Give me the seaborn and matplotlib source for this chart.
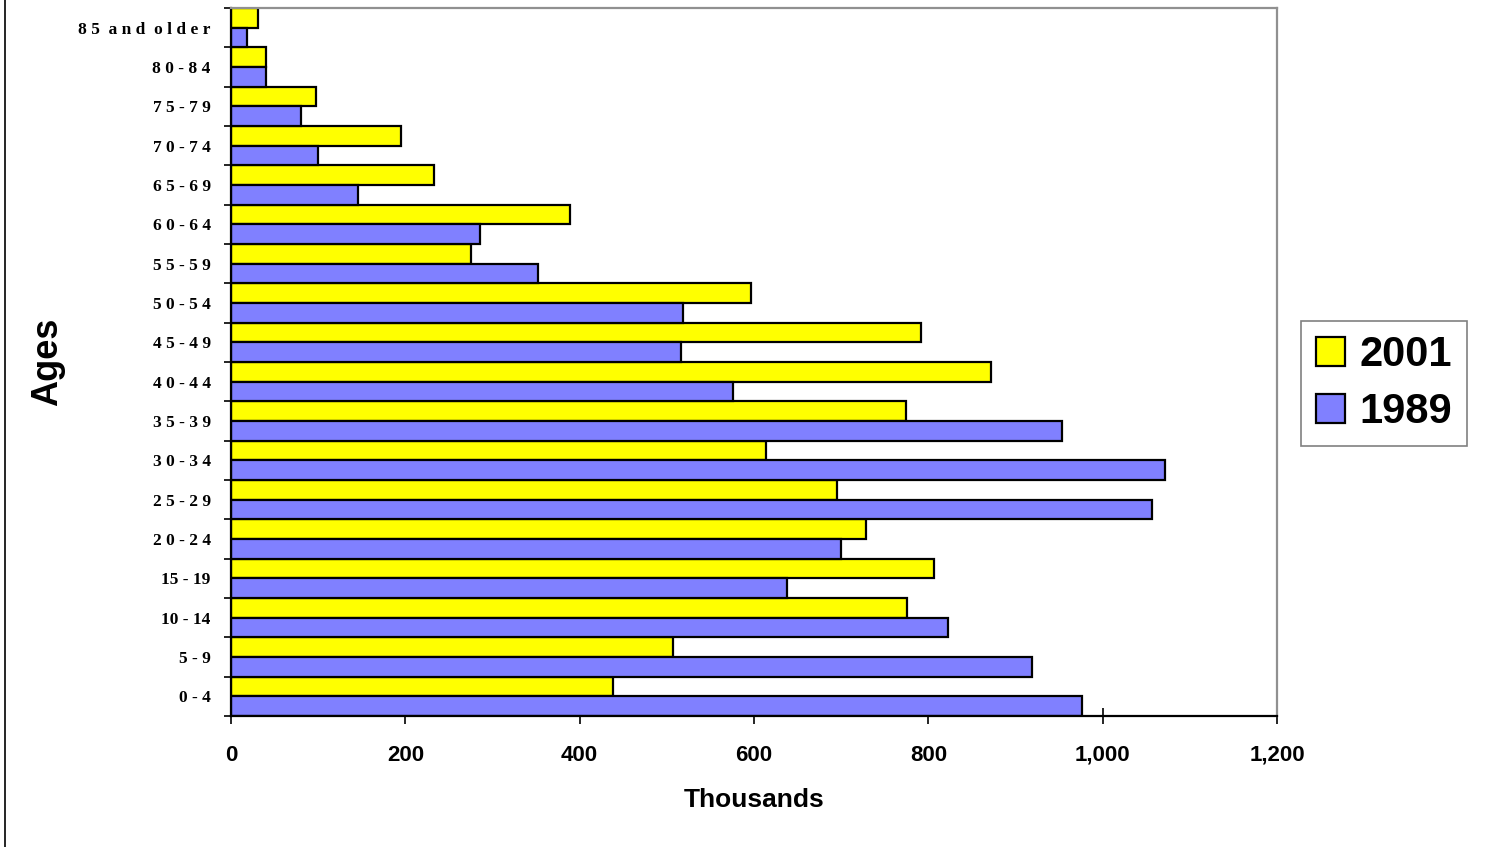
import matplotlib
matplotlib.use("Agg")
import matplotlib.pyplot as plt
import matplotlib.lines as mlines
import pandas as pd
import seaborn as sns

# age groups, top of chart first
ages = ["85 and older", "80-84", "75-79", "70-74", "65-69", "60-64", "55-59",
        "50-54", "45-49", "40-44", "35-39", "30-34", "25-29", "20-24",
        "15-19", "10-14", "5-9", "0-4"]
pop_2001 = [31, 40, 97, 195, 233, 389, 275, 597, 792, 872, 774, 614, 695,
            728, 807, 776, 507, 438]
pop_1989 = [18, 40, 80, 100, 146, 286, 352, 519, 516, 576, 953, 1071, 1057,
            700, 638, 823, 919, 976]
years = ["2001", "1989"]
colors = ["#FFFF00", "#8080FF"]
x_ticks = [0, 200, 400, 600, 800, 1000, 1200]


def tick_label(age):
    # old chart spaced out the letters, except the last four groups
    if age in ("15-19", "10-14", "5-9", "0-4"):
        return age.replace("-", " - ")
    if age == "85 and older":
        return "8 5  a n d  o l d e r"
    return " ".join(age)


df = pd.DataFrame({
    "age": ages * 2,
    "year": [years[0]] * len(ages) + [years[1]] * len(ages),
    "value": pop_2001 + pop_1989,
})

sns.set_theme(style="white")
plt.rcParams["font.family"] = ["Liberation Sans", "DejaVu Sans"]
plt.rcParams["text.color"] = "black"
plt.rcParams["axes.labelcolor"] = "black"
plt.rcParams["xtick.color"] = "black"
plt.rcParams["ytick.color"] = "black"

fig = plt.figure(figsize=(14.92, 8.47), dpi=100)
ax = fig.add_axes([231 / 1492, 1 - 716 / 847, 1046 / 1492, 708 / 847])

sns.barplot(data=df, y="age", x="value", hue="year", order=ages,
            hue_order=years, palette=colors, orient="h", width=1.0,
            edgecolor="black", linewidth=1.6, saturation=1, ax=ax)

ax.set_xlim(0, 1200)
ax.set_ylim(len(ages) - 0.5, -0.5)
ax.set_xticks(x_ticks)
ax.set_xticklabels([f"{v:,}" for v in x_ticks], fontsize=16, fontweight="bold")
ax.tick_params(axis="x", direction="inout", length=11.5, width=1.2,
               color="black", pad=15, bottom=True)

# y ticks sit between the groups
ax.set_yticks([i + 0.5 for i in range(-1, len(ages))], minor=True)
ax.set_yticks(range(len(ages)))
ax.set_yticklabels([tick_label(a) for a in ages], fontsize=12.5,
                   fontweight="bold", family=["Liberation Serif", "DejaVu Serif"])
ax.tick_params(axis="y", which="major", length=0, pad=14.5)
ax.tick_params(axis="y", which="minor", direction="out", length=5, width=1.2,
               color="black", left=True)

ax.set_xlabel("Thousands", fontsize=19, fontweight="bold", labelpad=16)
ax.set_ylabel("Ages", fontsize=26, fontweight="bold", labelpad=10)

for side in ["left", "bottom"]:
    ax.spines[side].set_color("black")
    ax.spines[side].set_linewidth(1.6)
for side in ["top", "right"]:
    ax.spines[side].set_color("#909090")
    ax.spines[side].set_linewidth(1.6)

handles, labels = ax.get_legend_handles_labels()
ax.legend_.remove()
leg = fig.legend(handles, labels, loc="center",
                 bbox_to_anchor=(1384 / 1492, 1 - 383.5 / 847),
                 prop={"size": 30, "weight": "bold"}, frameon=True,
                 fancybox=False, edgecolor="#606060", handlelength=0.7,
                 handleheight=0.7, handletextpad=0.35, labelspacing=0.4,
                 borderpad=0.35, borderaxespad=0)
leg.get_frame().set_linewidth(1.2)

# thin frame line down the left edge of the picture
fig.add_artist(mlines.Line2D([5 / 1492, 5 / 1492], [0, 1], color="black",
                             linewidth=1.2, transform=fig.transFigure))

fig.savefig("out.png", dpi=100)
